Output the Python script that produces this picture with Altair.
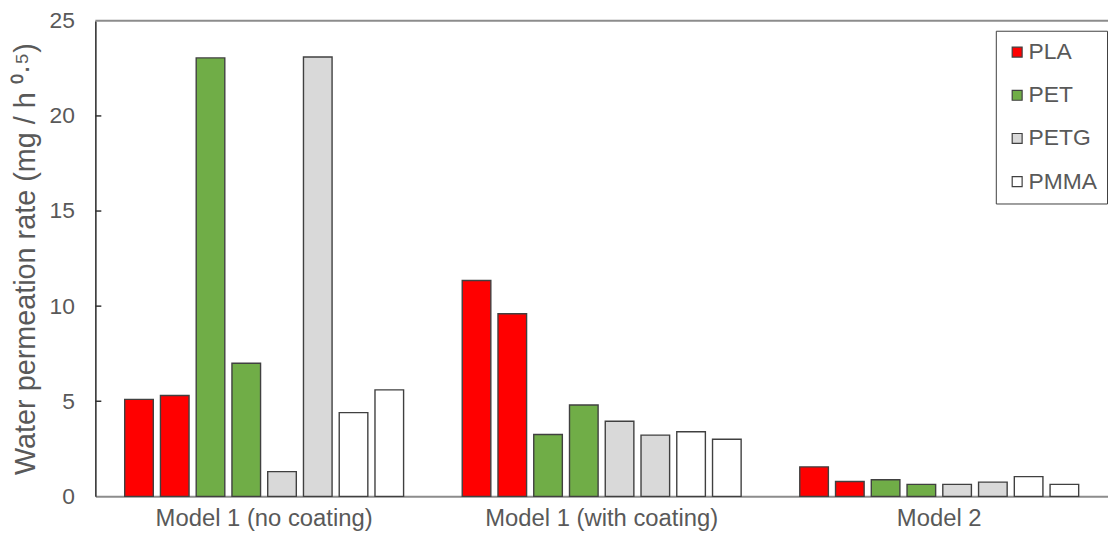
import altair as alt
import pandas as pd

groups = ["Model 1 (no coating)", "Model 1 (with coating)", "Model 2"]
materials = ["PLA", "PET", "PETG", "PMMA"]
colors = ["#FF0000", "#70AD47", "#D9D9D9", "#FFFFFF"]
# two bars per material in each group: [g1a, g1b, g2a, g2b, g3a, g3b]
pla = [5.1, 5.3, 11.35, 9.6, 1.55, 0.78]
pet = [23.05, 7.0, 3.25, 4.8, 0.87, 0.63]
petg = [1.3, 23.1, 3.95, 3.22, 0.63, 0.75]
pmma = [4.4, 5.6, 3.4, 3.0, 1.04, 0.63]
y_ticks = [0, 5, 10, 15, 20, 25]
inner_ticks = [5, 10, 15, 20]

series = {"PLA": pla, "PET": pet, "PETG": petg, "PMMA": pmma}
rows = []
for gi, g in enumerate(groups):
    for mi, m in enumerate(materials):
        for r in range(2):
            rows.append({"group": g, "material": m, "slot": mi * 2 + r,
                         "value": series[m][gi * 2 + r]})
df = pd.DataFrame(rows)

FONT = "Liberation Sans"
TXT = "#595959"
YSCALE = alt.Scale(domain=[0, 25], nice=False, zero=True)

bars = alt.Chart(df).mark_bar(stroke="#404040", strokeWidth=1.4).encode(
    x=alt.X("group:N", sort=groups, title=None,
            scale=alt.Scale(paddingInner=0, paddingOuter=0),
            axis=alt.Axis(labelAngle=0, ticks=False, tickSize=0, labelPadding=10,
                          labelLimit=500,
                          labelFont=FONT, labelFontSize=24, labelColor=TXT,
                          domainColor="#8c8c8c", domainWidth=2)),
    xOffset=alt.XOffset("slot:O", scale=alt.Scale(paddingInner=0.2, paddingOuter=0.82)),
    y=alt.Y("value:Q", scale=YSCALE,
            title="Water permeation rate (mg / h ⁰·⁵)",
            axis=alt.Axis(values=y_ticks, grid=False, ticks=False, tickSize=0,
                          labelPadding=21, labelFont=FONT, labelFontSize=23,
                          labelColor=TXT, titleFont=FONT, titleFontSize=29,
                          titleFontWeight="normal", titleColor=TXT, titlePadding=9,
                          domainColor="#333333", domainWidth=1.6)),
    fill=alt.Fill("material:N", sort=materials,
                  scale=alt.Scale(domain=materials, range=colors),
                  legend=alt.Legend(title=None, orient="none", legendX=907, legendY=10,
                                    symbolType="square", symbolSize=100,
                                    symbolStrokeColor="#404040", symbolStrokeWidth=1.2,
                                    labelFont=FONT, labelFontSize=23, labelColor=TXT,
                                    labelOffset=0, rowPadding=19.5, padding=10,
                                    strokeColor="#404040", fillColor="white")),
)

top = alt.Chart(pd.DataFrame({"t": [25]})).mark_rule(color="#8c8c8c", strokeWidth=2).encode(
    y=alt.Y("t:Q", scale=YSCALE)
)

ticks = alt.Chart(pd.DataFrame({"t": inner_ticks})).mark_rule(color="#333333", strokeWidth=1.5).encode(
    y=alt.Y("t:Q", scale=YSCALE), x=alt.value(0), x2=alt.value(6)
)

chart = alt.layer(bars, top, ticks).properties(
    width=1020, height=479,
    autosize=alt.AutoSizeParams(type="none"),
    padding={"left": 88, "top": 11, "right": 0, "bottom": 36},
).configure_view(stroke=None)

chart.save("out.html", embed_options={"renderer": "svg", "actions": False})
